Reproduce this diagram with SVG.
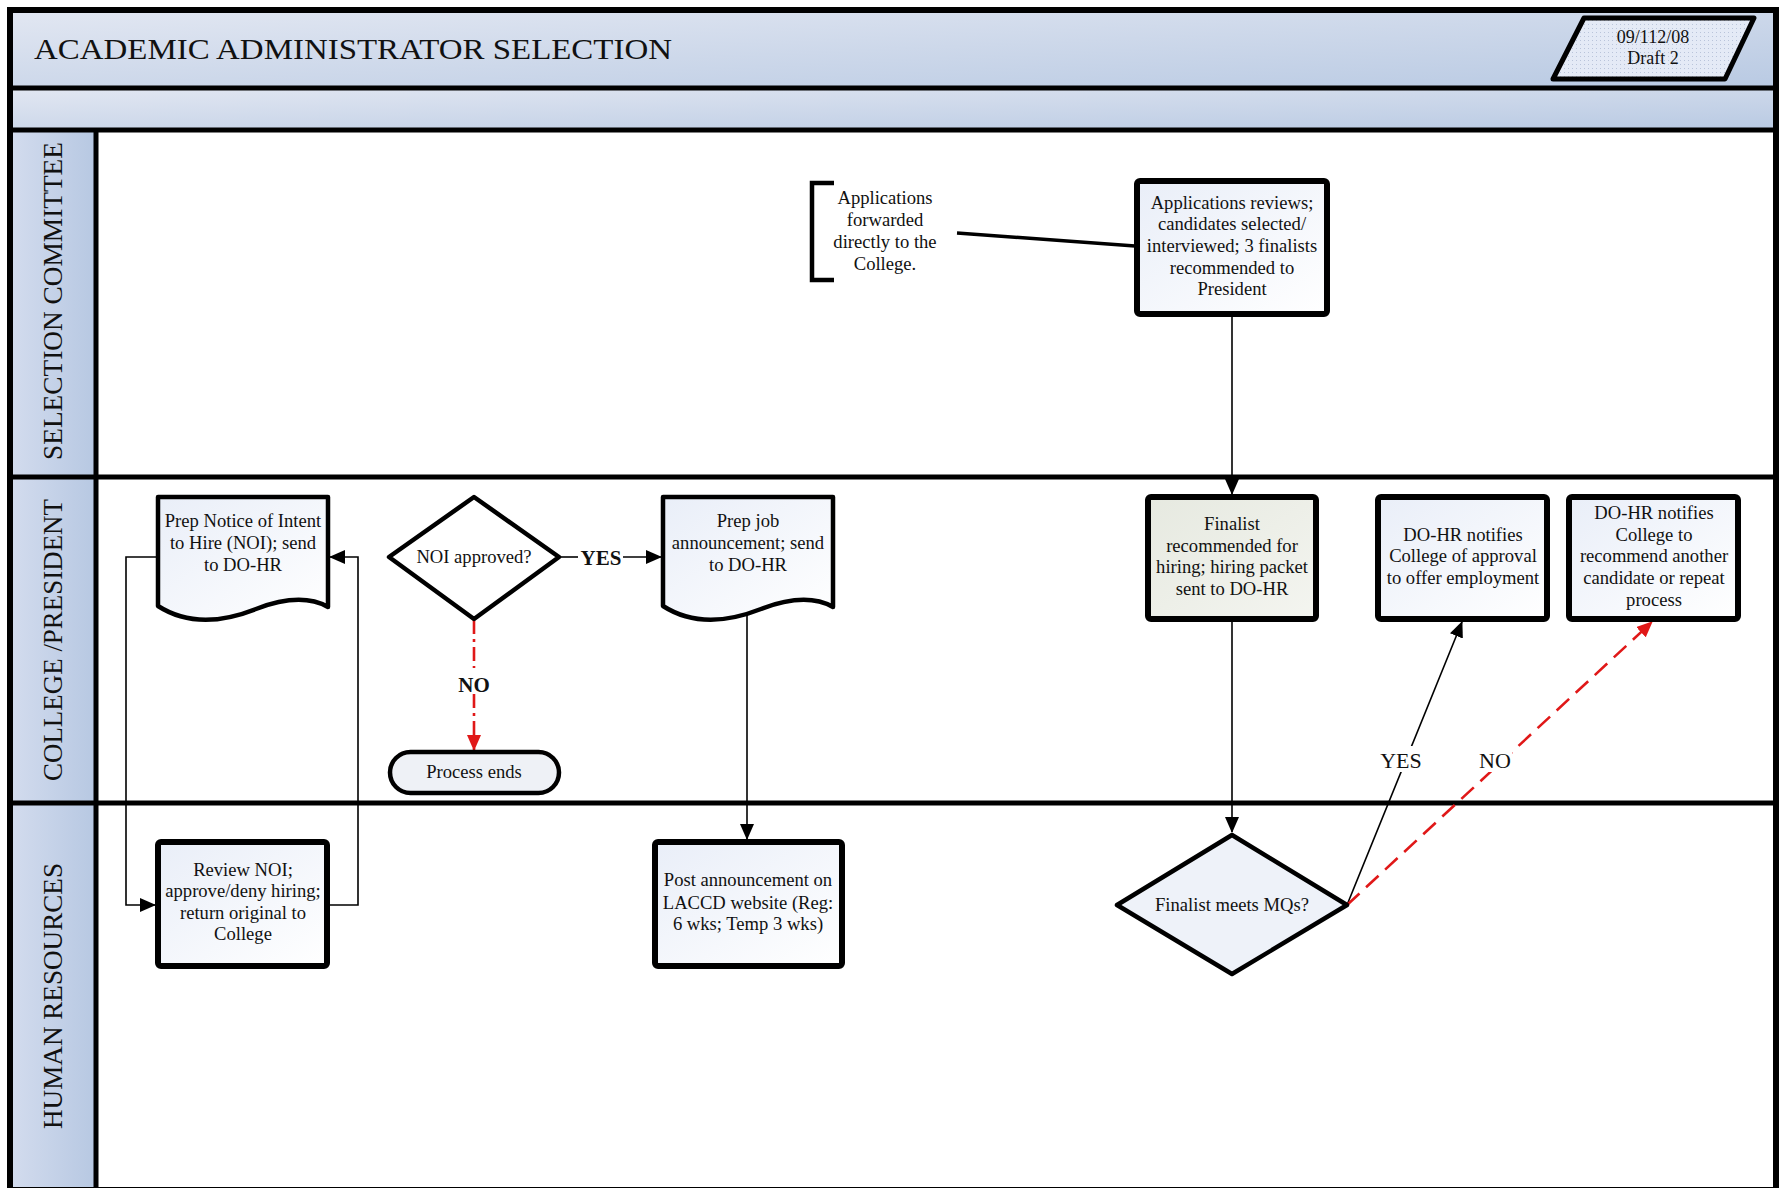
<svg xmlns="http://www.w3.org/2000/svg" width="1780" height="1188" viewBox="0 0 1780 1188">
  <defs>
    <linearGradient id="bandGrad" x1="0" y1="0" x2="1" y2="1">
      <stop offset="0" stop-color="#e2e7f2"/>
      <stop offset="0.5" stop-color="#cdd8ea"/>
      <stop offset="1" stop-color="#b9cae3"/>
    </linearGradient>
    <linearGradient id="laneGrad" x1="0" y1="0" x2="1" y2="0">
      <stop offset="0" stop-color="#d3dcee"/>
      <stop offset="1" stop-color="#b7c8e2"/>
    </linearGradient>
    <linearGradient id="boxGrad" x1="0" y1="0" x2="1" y2="1">
      <stop offset="0" stop-color="#e9eef8"/>
      <stop offset="1" stop-color="#ffffff"/>
    </linearGradient>
    <linearGradient id="finGrad" x1="0" y1="0" x2="1" y2="1">
      <stop offset="0" stop-color="#e6e9e0"/>
      <stop offset="1" stop-color="#f4f5f0"/>
    </linearGradient>
    <pattern id="dots" width="4" height="4" patternUnits="userSpaceOnUse">
      <rect width="4" height="4" fill="#e4eaf6"/>
      <rect width="1" height="1" fill="#b9c4da"/>
    </pattern>
    <marker id="arrow" markerUnits="userSpaceOnUse" markerWidth="16" markerHeight="14" refX="15" refY="7" orient="auto">
      <path d="M0,0 L16,7 L0,14 z" fill="#000"/>
    </marker>
    <marker id="arrowRed" markerUnits="userSpaceOnUse" markerWidth="16" markerHeight="14" refX="15" refY="7" orient="auto">
      <path d="M0,0 L16,7 L0,14 z" fill="#e01818"/>
    </marker>
  </defs>
  <style>
    text { font-family: "Liberation Serif", "Times New Roman", serif; fill: #111; }
    .node { font-size: 18.6px; text-anchor: middle; }
    .lbl { font-size: 21px; font-weight: bold; text-anchor: middle; }
    .lbl-plain { font-size: 22px; text-anchor: middle; }
    .lane { font-size: 27px; text-anchor: middle; }
    .box { stroke: #000; stroke-width: 6; stroke-linejoin: round; }
    .shape { stroke: #000; stroke-width: 4.5; stroke-linejoin: round; }
    .conn { fill: none; stroke: #000; stroke-width: 1.6; }
    .red { fill: none; stroke: #e01818; stroke-width: 2.6; }
    .rule { stroke: #000; stroke-width: 5; }
  </style>

  <rect width="1780" height="1188" fill="#fff"/>

  <!-- title band and sub band -->
  <rect x="10" y="10" width="1766" height="78" fill="url(#bandGrad)"/>
  <rect x="10" y="88" width="1766" height="42" fill="url(#bandGrad)"/>
  <text x="34" y="59" font-size="30" textLength="638" lengthAdjust="spacingAndGlyphs">ACADEMIC ADMINISTRATOR SELECTION</text>

  <g id="revision">
    <polygon points="1584,18 1754,18 1725,79 1553,79" fill="url(#dots)" stroke="#000" stroke-width="5" stroke-linejoin="round"/>
    <text x="1653" y="43" font-size="18" text-anchor="middle">09/112/08</text>
    <text x="1653" y="64" font-size="18" text-anchor="middle">Draft 2</text>
  </g>

  <!-- swimlane headers -->
  <rect x="10" y="130" width="85" height="1058" fill="url(#laneGrad)"/>
  <text class="lane" transform="translate(62,301) rotate(-90)" textLength="318" lengthAdjust="spacingAndGlyphs">SELECTION COMMITTEE</text>
  <text class="lane" transform="translate(62,640) rotate(-90)" textLength="282" lengthAdjust="spacingAndGlyphs">COLLEGE /PRESIDENT</text>
  <text class="lane" transform="translate(62,996) rotate(-90)" textLength="266" lengthAdjust="spacingAndGlyphs">HUMAN RESOURCES</text>

  <!-- frame and lane rules -->
  <line class="rule" x1="10" y1="88" x2="1776" y2="88"/>
  <line class="rule" x1="10" y1="130" x2="1776" y2="130"/>
  <line class="rule" x1="10" y1="477" x2="1776" y2="477"/>
  <line class="rule" x1="10" y1="803" x2="1776" y2="803"/>
  <line class="rule" x1="96" y1="130" x2="96" y2="1188"/>
  <rect x="10" y="10" width="1766" height="1180" fill="none" stroke="#000" stroke-width="6"/>

  <!-- connectors -->
  <g id="connectors">
    <line x1="957" y1="233" x2="1135" y2="246" stroke="#000" stroke-width="3.5"/>
    <line class="conn" x1="1232" y1="316" x2="1232" y2="494" marker-end="url(#arrow)"/>
    <line class="conn" x1="1232" y1="622" x2="1232" y2="832" marker-end="url(#arrow)"/>
    <polyline class="conn" points="157,557 126,557 126,905 155,905" marker-end="url(#arrow)"/>
    <polyline class="conn" points="328,905 358,905 358,557 330,557" marker-end="url(#arrow)"/>
    <line class="conn" x1="559" y1="557" x2="578" y2="557"/>
    <line class="conn" x1="623" y1="557" x2="661" y2="557" marker-end="url(#arrow)"/>
    <text class="lbl" x="601" y="565">YES</text>
    <line class="red" x1="474" y1="620" x2="474" y2="668" stroke-dasharray="14 5 3 5"/>
    <line class="red" x1="474" y1="694" x2="474" y2="750" stroke-dasharray="14 5 3 5" marker-end="url(#arrowRed)"/>
    <text class="lbl" x="474" y="692">NO</text>
    <line class="conn" x1="747" y1="612" x2="747" y2="839" marker-end="url(#arrow)"/>
    <line class="conn" x1="1347" y1="905" x2="1462" y2="622" marker-end="url(#arrow)"/>
    <line class="red" x1="1347" y1="905" x2="1652" y2="622" stroke-dasharray="17 9" marker-end="url(#arrowRed)"/>
    <rect x="1380" y="746" width="42" height="26" fill="#fff"/>
    <text class="lbl-plain" x="1401" y="768">YES</text>
    <rect x="1478" y="746" width="34" height="26" fill="#fff"/>
    <text class="lbl-plain" x="1495" y="768">NO</text>
  </g>

  <!-- selection committee lane -->
  <g id="apps-forwarded">
    <path d="M834,183 H812 V280 H834" fill="none" stroke="#000" stroke-width="4.5"/>
    <text class="node" x="885" y="204">Applications</text>
    <text class="node" x="885" y="226">forwarded</text>
    <text class="node" x="885" y="248">directly to the</text>
    <text class="node" x="885" y="270">College.</text>
  </g>
  <g id="apps-reviewed">
    <rect class="box" x="1137" y="181" width="190" height="133" rx="3" fill="url(#boxGrad)"/>
    <text class="node" x="1232" y="209">Applications reviews;</text>
    <text class="node" x="1232" y="230">candidates selected/</text>
    <text class="node" x="1232" y="252">interviewed; 3 finalists</text>
    <text class="node" x="1232" y="274">recommended to</text>
    <text class="node" x="1232" y="295">President</text>
  </g>

  <!-- college / president lane -->
  <g id="prep-noi">
    <path class="shape" d="M158,497 H328 V607 C312,598 290,596 256,609 C218,624 186,624 158,606 Z" fill="url(#boxGrad)"/>
    <text class="node" x="243" y="527">Prep Notice of Intent</text>
    <text class="node" x="243" y="549">to Hire (NOI); send</text>
    <text class="node" x="243" y="571">to DO-HR</text>
  </g>
  <g id="noi-approved">
    <polygon class="shape" points="474,497 559,557 474,619 389,557" fill="#fff"/>
    <text class="node" x="474" y="563">NOI approved?</text>
  </g>
  <g id="process-ends">
    <rect class="shape" x="390" y="752" width="169" height="41" rx="20.5" fill="#eef1f6"/>
    <text class="node" x="474" y="778">Process ends</text>
  </g>
  <g id="prep-job">
    <path class="shape" d="M663,497 H833 V607 C817,598 795,596 761,609 C723,624 691,624 663,606 Z" fill="url(#boxGrad)"/>
    <text class="node" x="748" y="527">Prep job</text>
    <text class="node" x="748" y="549">announcement; send</text>
    <text class="node" x="748" y="571">to DO-HR</text>
  </g>
  <g id="finalist-recommended">
    <rect class="box" x="1148" y="497" width="168" height="122" rx="3" fill="url(#finGrad)"/>
    <text class="node" x="1232" y="530">Finalist</text>
    <text class="node" x="1232" y="552">recommended for</text>
    <text class="node" x="1232" y="573">hiring; hiring packet</text>
    <text class="node" x="1232" y="595">sent to DO-HR</text>
  </g>
  <g id="notify-approval">
    <rect class="box" x="1378" y="497" width="169" height="122" rx="3" fill="url(#boxGrad)"/>
    <text class="node" x="1463" y="541">DO-HR notifies</text>
    <text class="node" x="1463" y="562">College of approval</text>
    <text class="node" x="1463" y="584">to offer employment</text>
  </g>
  <g id="notify-repeat">
    <rect class="box" x="1569" y="497" width="169" height="122" rx="3" fill="url(#boxGrad)"/>
    <text class="node" x="1654" y="519">DO-HR notifies</text>
    <text class="node" x="1654" y="541">College to</text>
    <text class="node" x="1654" y="562">recommend another</text>
    <text class="node" x="1654" y="584">candidate or repeat</text>
    <text class="node" x="1654" y="606">process</text>
  </g>

  <!-- human resources lane -->
  <g id="review-noi">
    <rect class="box" x="158" y="842" width="169" height="124" rx="3" fill="url(#boxGrad)"/>
    <text class="node" x="243" y="876">Review NOI;</text>
    <text class="node" x="243" y="897">approve/deny hiring;</text>
    <text class="node" x="243" y="919">return original to</text>
    <text class="node" x="243" y="940">College</text>
  </g>
  <g id="post-announcement">
    <rect class="box" x="655" y="842" width="187" height="124" rx="3" fill="url(#boxGrad)"/>
    <text class="node" x="748" y="886">Post announcement on</text>
    <text class="node" x="748" y="909">LACCD website (Reg:</text>
    <text class="node" x="748" y="930">6 wks; Temp 3 wks)</text>
  </g>
  <g id="meets-mqs">
    <polygon class="shape" points="1232,835 1347,905 1232,974 1117,905" fill="#eef2f9"/>
    <text class="node" x="1232" y="911" font-size="17.5">Finalist meets MQs?</text>
  </g>
</svg>
